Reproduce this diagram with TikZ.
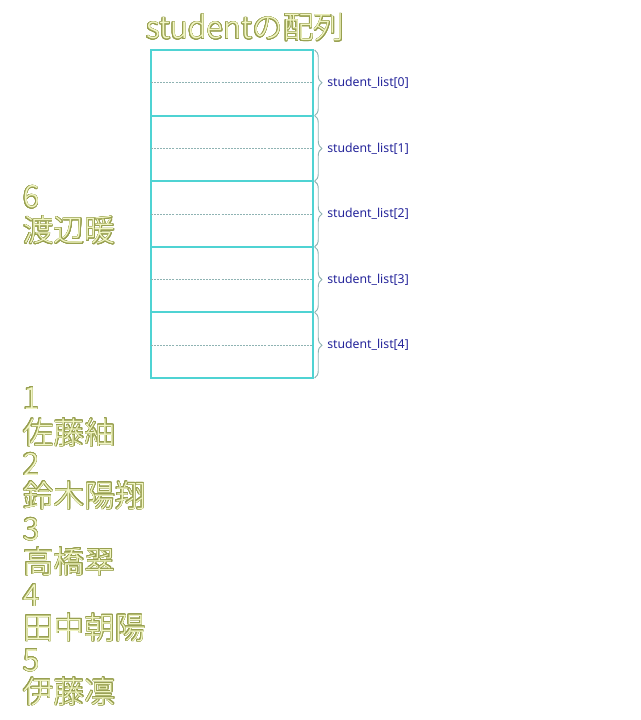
\documentclass[tikz,border=0pt]{standalone}
\usepackage{fontspec}
\usepackage[copies]{contour}
\usetikzlibrary{decorations.pathreplacing}
\newfontfamily\jp{Noto Sans CJK JP}[UprightFont={* Light}]
\newfontfamily\lab{Noto Sans}
\definecolor{txtfill}{HTML}{F2F6C4}
\definecolor{txtline}{HTML}{98A050}
\definecolor{cellcol}{HTML}{4FD3D3}
\definecolor{bracecol}{HTML}{8FB3B3}
\definecolor{labcol}{HTML}{24249A}
\contourlength{0.45pt}
\contournumber{24}
\newcommand{\olt}[1]{{\color{txtfill}\contour{txtline}{#1}}}
\tikzset{
  cell/.style={draw=cellcol, line width=1.6pt, minimum width=121.5pt, minimum height=49.2pt, inner sep=0pt, outer sep=0pt},
  midline/.style={draw=bracecol, dashed, dash pattern=on 1.5pt off 0.8pt, line width=0.5pt},
  bracestyle/.style={draw=bracecol, line width=0.7pt, decorate, decoration={brace, amplitude=5.5pt}},
  arrlabel/.style={font=\lab\fontsize{9.2}{11}\selectfont, text=labcol, anchor=west, inner sep=0pt},
  bigtext/.style={font=\jp\fontsize{23}{24}\selectfont, anchor=base west, inner sep=0pt},
  titletext/.style={font=\jp\fontsize{23}{24}\selectfont, anchor=base west, inner sep=0pt}
}
\begin{document}
\begin{tikzpicture}[x=0.75pt, y=-0.75pt]
\useasboundingbox (0,0) rectangle (640,720);
\node[titletext] (title) at (146,39) {\olt{studentの配列}};
\foreach \i in {0,...,4} {
  \node[cell, anchor=north west] (b\i) at (151, {50+65.6*\i}) {};
  \draw[midline] (b\i.west) -- (b\i.east);
  \draw[bracestyle] ([xshift=1.2pt]b\i.north east) -- ([xshift=1.2pt]b\i.south east)
     coordinate[pos=0.5] (t\i);
  \node[arrlabel] (l\i) at ([xshift=10.5pt]b\i.east) {student\_list[\i]};
}
\node[bigtext] (n6) at (23,208) {\olt{6}};
\node[bigtext] (s6) at (23,242) {\olt{渡辺暖}};
\node[bigtext] (n1) at (23,409) {\olt{1}};
\node[bigtext] (s1) at (23,444) {\olt{佐藤紬}};
\node[bigtext] (n2) at (23,475) {\olt{2}};
\node[bigtext] (s2) at (23,507) {\olt{鈴木陽翔}};
\node[bigtext] (n3) at (23,540) {\olt{3}};
\node[bigtext] (s3) at (23,573) {\olt{高橋翠}};
\node[bigtext] (n4) at (23,606) {\olt{4}};
\node[bigtext] (s4) at (23,639) {\olt{田中朝陽}};
\node[bigtext] (n5) at (23,671) {\olt{5}};
\node[bigtext] (s5) at (23,703) {\olt{伊藤凛}};
\end{tikzpicture}
\end{document}
